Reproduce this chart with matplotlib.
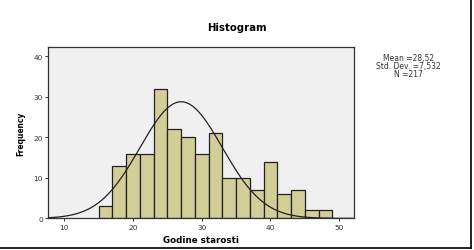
import numpy as np
import matplotlib
matplotlib.use("Agg")
import matplotlib.pyplot as plt

# bin edges (age, step 2) and counts per bin
bin_edges = [15, 17, 19, 21, 23, 25, 27, 29, 31, 33, 35, 37, 39, 41, 43, 45, 47, 49]
counts = [3, 13, 16, 16, 32, 22, 20, 16, 21, 10, 10, 7, 14, 6, 7, 2, 2]

# normal curve as it appears on the chart
curve_mean = 27.0
curve_sd = 6.0
curve_peak = 28.8

x_ticks = [10, 20, 30, 40, 50]
y_ticks = [0, 10, 20, 30, 40]
stats_text = "Mean =28,52\nStd. Dev. =7,532\nN =217"

fig = plt.figure(figsize=(4.74, 2.51), dpi=100)
ax = fig.add_axes([0.102, 0.126, 0.6455, 0.684])
ax.set_facecolor("#f0f0f0")

lefts = np.array(bin_edges[:-1])
widths = np.diff(bin_edges)
ax.bar(lefts, counts, width=widths, align="edge", color="#d3cd98",
       edgecolor="#222222", linewidth=0.9, zorder=2)

xs = np.linspace(7.7, 52, 400)
ys = curve_peak * np.exp(-0.5 * ((xs - curve_mean) / curve_sd) ** 2)
ax.plot(xs, ys, color="#222222", linewidth=0.9, zorder=3)

ax.set_xlim(7.67, 52.2)
ax.set_ylim(0, 42.4)
ax.set_xticks(x_ticks)
ax.set_yticks(y_ticks)
ax.tick_params(axis="both", direction="out", length=2.5, width=0.7,
               labelsize=5.3, colors="#333333", pad=1.5)
for s in ax.spines.values():
    s.set_linewidth(0.9)
    s.set_color("#333333")

ax.set_xlabel("Godine starosti", fontsize=6.3, fontweight="bold", labelpad=4)
ax.set_ylabel("Frequency", fontsize=6, fontweight="bold", labelpad=6,
              fontstretch="condensed")
fig.text(0.5, 0.888, "Histogram", ha="center", va="center",
         fontsize=7.3, fontweight="bold")
fig.text(0.861, 0.735, stats_text, ha="center", va="center",
         fontsize=5.5, linespacing=0.8, color="#333333")

# page border on right and bottom
fig.add_artist(plt.Line2D([0.994, 0.994], [0.008, 1.0], transform=fig.transFigure,
                          color="black", linewidth=1.2))
fig.add_artist(plt.Line2D([0.0, 0.994], [0.008, 0.008], transform=fig.transFigure,
                          color="black", linewidth=1.2))

fig.savefig("out.png", dpi=100)
